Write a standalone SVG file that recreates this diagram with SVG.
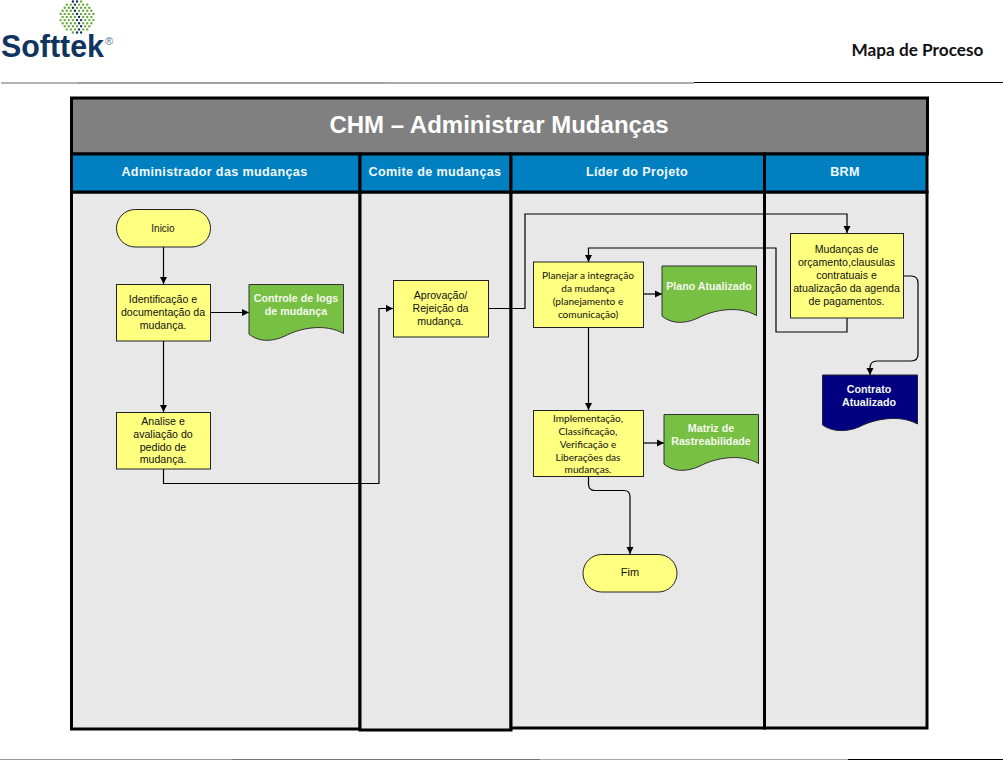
<svg xmlns="http://www.w3.org/2000/svg" width="1003" height="760" viewBox="0 0 1003 760">
<style>
.box{fill:#ffff80;stroke:#222;stroke-width:1}
.doc{fill:#78c044;stroke:#333;stroke-width:1}
.lane{fill:#e8e8e8;stroke:#000;stroke-width:3}
.lh{fill:#0080c0;stroke:#000;stroke-width:3}
.c{fill:none;stroke:#000;stroke-width:1.2;marker-end:url(#a)}
.t{font:10.6px "Liberation Sans",Arial,sans-serif;fill:#111;text-anchor:middle}
.o{font:10.1px Lato,sans-serif;fill:#111;text-anchor:middle}
.w{font:bold 10.7px "Liberation Sans",Arial,sans-serif;fill:#f4f8ee;text-anchor:middle}
.h{font:bold 12.6px "Liberation Sans",Arial,sans-serif;fill:#f0f8ff;text-anchor:middle;letter-spacing:.35px}
</style>
<defs>
<marker id="a" markerUnits="userSpaceOnUse" markerWidth="8" markerHeight="8" refX="7" refY="4" orient="auto"><path d="M0 0.500L7 4L0 7.500Z" fill="#000"/></marker>
</defs>
<rect width="1003" height="760" fill="#fff"/>
<g id="logo">
<text x="1" y="57" font-family="'Liberation Sans',Arial,sans-serif" font-weight="bold" font-size="31" fill="#0f3460" textLength="103" lengthAdjust="spacingAndGlyphs">Softtek</text>
<text x="105" y="45" font-family="'Liberation Sans',Arial,sans-serif" font-size="11" fill="#5a7a98">®</text>
<path stroke="#6aaa3c" stroke-width="2.400" stroke-linecap="round" fill="none" d="M81.100 1.500h0M66.750 4.600h0M70.850 4.600h0M79.050 4.600h0M83.150 4.600h0M87.250 4.600h0M64.700 7.700h0M68.800 7.700h0M77 7.700h0M81.100 7.700h0M85.200 7.700h0M89.300 7.700h0M62.650 10.800h0M66.750 10.800h0M70.850 10.800h0M79.050 10.800h0M83.150 10.800h0M87.250 10.800h0M91.350 10.800h0M60.600 13.900h0M64.700 13.900h0M68.800 13.900h0M72.900 13.900h0M81.100 13.900h0M85.200 13.900h0M89.300 13.900h0M93.400 13.900h0M62.650 17h0M66.750 17h0M70.850 17h0M74.950 17h0M83.150 17h0M87.250 17h0M91.350 17h0M60.600 20.100h0M64.700 20.100h0M68.800 20.100h0M72.900 20.100h0M85.200 20.100h0M89.300 20.100h0M93.400 20.100h0M62.650 23.200h0M66.750 23.200h0M70.850 23.200h0M74.950 23.200h0M83.150 23.200h0M87.250 23.200h0M91.350 23.200h0M64.700 26.300h0M68.800 26.300h0M72.900 26.300h0M77 26.300h0M85.200 26.300h0M89.300 26.300h0M66.750 29.400h0M70.850 29.400h0M74.950 29.400h0M83.150 29.400h0M87.250 29.400h0M72.900 32.500h0"/>
<path stroke="#12305e" stroke-width="2.400" stroke-linecap="round" fill="none" d="M72.900 1.500h0M77 1.500h0M74.950 4.600h0M72.900 7.700h0M74.950 10.800h0M77 13.900h0M79.050 17h0M77 20.100h0M81.100 20.100h0M79.050 23.200h0M81.100 26.300h0M79.050 29.400h0M77 32.500h0M81.100 32.500h0"/>
</g>
<g id="rules" fill="none">
<path d="M1 83H78" stroke="#666" stroke-width="1"/><path d="M78 83H385" stroke="#808080" stroke-width="1.500"/><path d="M385 83H694" stroke="#555" stroke-width="1.200"/><path d="M694 82.500H1003" stroke="#000" stroke-width="1"/>
<path d="M0 759.500H232" stroke="#999" stroke-width="1"/><path d="M232 759.500H540" stroke="#777" stroke-width="1"/><path d="M540 759.500H848" stroke="#aaa" stroke-width="1"/><path d="M848 759.500H1003" stroke="#000" stroke-width="1"/>
</g>
<text x="917.500" y="56" text-anchor="middle" font-family="Lato,sans-serif" font-weight="bold" font-size="17.200" fill="#111">Mapa de Proceso</text>
<g id="lanes">
<rect id="lane1" class="lane" x="71.500" y="192" width="288.500" height="537"/>
<rect id="lane2" class="lane" x="360" y="192" width="151" height="538"/>
<rect id="lane3" class="lane" x="511" y="192" width="253.500" height="536"/>
<rect id="lane4" class="lane" x="764.500" y="192" width="162.500" height="536"/>
<rect x="71.500" y="98" width="856" height="56" fill="#808080" stroke="#000" stroke-width="3"/>
<rect class="lh" x="71.500" y="154" width="288.500" height="38"/>
<rect class="lh" x="360" y="154" width="151" height="38"/>
<rect class="lh" x="511" y="154" width="253.500" height="38"/>
<rect class="lh" x="764.500" y="154" width="162.500" height="38"/>
<text x="499" y="133" text-anchor="middle" font-family="'Liberation Sans',Arial,sans-serif" font-weight="bold" font-size="24" fill="#fff">CHM – Administrar Mudanças</text>
<text class="h" x="214.500" y="176">Administrador das mudanças</text>
<text class="h" x="435" y="176">Comite de mudanças</text>
<text class="h" x="637" y="176">Líder do Projeto</text>
<text class="h" x="845" y="176">BRM</text>
</g>
<g id="connectors">
<path class="c" d="M163.500 247V284"/>
<path class="c" d="M211 312.500H249"/>
<path class="c" d="M163.500 341V412"/>
<path class="c" d="M163.500 469V483.500H379V308.500H393"/>
<path class="c" d="M488.500 308.500H525V214H847V233"/>
<path class="c" d="M847 318V332H776V248H588.500V262"/>
<path class="c" d="M643 294H662"/>
<path class="c" d="M588.500 327.500V410"/>
<path class="c" d="M643.500 443H664"/>
<path class="c" d="M588.500 476.500V484Q588.500 490.500 595 490.500H624Q630 490.500 630 497V554"/>
<path class="c" d="M903.500 276H911Q918 276 918 283V354Q918 361 911 361H877Q870 361 870 368V375"/>
</g>
<g id="n-inicio"><rect class="box" x="116.500" y="209.500" width="94" height="37.500" rx="18.700"/><text class="t" x="163" y="232" style="font-size:10px">Inicio</text></g>
<g id="n-ident"><rect class="box" x="116.500" y="284.500" width="94" height="56.500"/><text class="t" x="163"><tspan x="163" y="303">Identificação e</tspan><tspan x="163" y="316">documentação da</tspan><tspan x="163" y="329">mudança.</tspan></text></g>
<g id="n-controle"><path class="doc" d="M249 284.500H343.500V333.500C325 323 300 328 285 336C270 343 257 341 249 334Z"/><text class="w"><tspan x="296" y="302">Controle de logs</tspan><tspan x="296" y="315">de mudança</tspan></text></g>
<g id="n-analise"><rect class="box" x="116.500" y="412.500" width="94" height="56.500"/><text class="t"><tspan x="163" y="425">Analise e</tspan><tspan x="163" y="438">avaliação do</tspan><tspan x="163" y="450.500">pedido de</tspan><tspan x="163" y="463">mudança.</tspan></text></g>
<g id="n-aprov"><rect class="box" x="393.500" y="280.500" width="95" height="56.500"/><text class="t"><tspan x="440.500" y="299">Aprovação/</tspan><tspan x="440.500" y="312">Rejeição da</tspan><tspan x="440.500" y="325">mudança.</tspan></text></g>
<g id="n-plan"><rect class="box" x="533.500" y="262" width="110" height="65.500"/><text class="o"><tspan x="588" y="279">Planejar a integração</tspan><tspan x="588" y="292">da mudança</tspan><tspan x="588" y="305">(planejamento e</tspan><tspan x="588" y="318">comunicação)</tspan></text></g>
<g id="n-plano"><path class="doc" d="M662 266H756.500V315.500C738 305 713 310 698 318C683 325 670 323 662 316Z"/><text class="w" x="709" y="290">Plano Atualizado</text></g>
<g id="n-impl"><rect class="box" x="533.500" y="410.500" width="110" height="66"/><text class="o"><tspan x="588" y="422">Implementação,</tspan><tspan x="588" y="434.500">Classificação,</tspan><tspan x="588" y="447.500">Verificação e</tspan><tspan x="588" y="460.500">Liberações das</tspan><tspan x="588" y="473">mudanças.</tspan></text></g>
<g id="n-matriz"><path class="doc" d="M664 414.500H758.500V463.500C740 453 715 458 700 466C685 473 672 471 664 464Z"/><text class="w"><tspan x="711" y="432">Matriz de</tspan><tspan x="711" y="445">Rastreabilidade</tspan></text></g>
<g id="n-fim"><rect class="box" x="583" y="554.500" width="94" height="37.500" rx="18.700"/><text class="t" x="630" y="576" style="font-size:11px">Fim</text></g>
<g id="n-mud"><rect class="box" x="790.500" y="233.500" width="113" height="84.500"/><text class="t"><tspan x="846.500" y="253">Mudanças de</tspan><tspan x="846.500" y="266">orçamento,clausulas</tspan><tspan x="846.500" y="279">contratuais e</tspan><tspan x="846.500" y="292">atualização da agenda</tspan><tspan x="846.500" y="305">de pagamentos.</tspan></text></g>
<g id="n-contrato"><path d="M822.500 375H917.500V424C899 414 874 419 859 427C844 433 831 431 822.500 425Z" fill="#000080" stroke="#223"/><text class="w"><tspan x="869" y="393">Contrato</tspan><tspan x="869" y="406">Atualizado</tspan></text></g>
</svg>
